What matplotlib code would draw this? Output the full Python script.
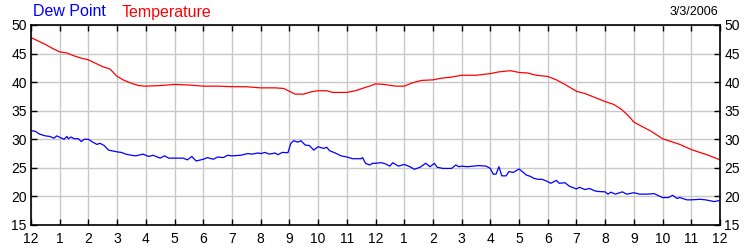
import matplotlib
matplotlib.use("Agg")
import matplotlib.pyplot as plt

plt.rcParams['font.family'] = ['Liberation Sans', 'DejaVu Sans']

temp_t = [0, 0.25, 0.5, 0.75, 1.0, 1.25, 1.5, 1.75, 2.0, 2.25, 2.5, 2.75, 3.0, 3.25, 3.5, 3.75,
          4.0, 4.5, 5.0, 5.5, 6.0, 6.5, 7.0, 7.5, 8.0, 8.5, 8.8, 9.0, 9.2, 9.5, 9.75, 10.0,
          10.3, 10.5, 11.0, 11.3, 11.6, 11.85, 12.0, 12.3, 12.7, 13.0, 13.3, 13.6, 14.0, 14.3,
          14.6, 15.0, 15.5, 16.0, 16.3, 16.7, 17.0, 17.3, 17.6, 18.0, 18.3, 18.6, 19.0, 19.3,
          19.6, 20.0, 20.3, 20.55, 20.75, 20.9, 21.0, 21.3, 21.6, 22.0, 22.3, 22.6, 23.0, 23.3,
          23.6, 24.0]
temp_v = [47.8, 47.2, 46.6, 45.9, 45.3, 45.1, 44.6, 44.2, 43.9, 43.3, 42.7, 42.3, 41.0, 40.3, 39.8, 39.4,
          39.3, 39.4, 39.6, 39.5, 39.3, 39.3, 39.2, 39.2, 39.0, 39.0, 38.9, 38.4, 37.9, 37.9, 38.3, 38.5,
          38.5, 38.2, 38.2, 38.5, 39.0, 39.4, 39.7, 39.6, 39.3, 39.3, 39.9, 40.3, 40.4, 40.7,
          40.85, 41.2, 41.2, 41.5, 41.8, 42.0, 41.7, 41.6, 41.2, 41.0, 40.4, 39.6, 38.4, 38.0,
          37.4, 36.6, 36.1, 35.3, 34.4, 33.6, 33.0, 32.2, 31.4, 30.1, 29.6, 29.1, 28.2, 27.7,
          27.2, 26.4]

dew_t = [0, 0.15, 0.3, 0.5, 0.65, 0.8, 0.9, 1.0, 1.15, 1.25, 1.3, 1.4, 1.5, 1.65, 1.75, 1.85,
         2.0, 2.15, 2.3, 2.4, 2.55, 2.7, 2.9, 3.0, 3.15, 3.3, 3.5, 3.65, 3.9, 4.1, 4.25, 4.5,
         4.65, 4.8, 5.0, 5.3, 5.45, 5.6, 5.75, 6.0, 6.15, 6.35, 6.5, 6.7, 6.85, 7.0, 7.3, 7.55,
         7.7, 7.9, 8.0, 8.15, 8.3, 8.5, 8.6, 8.75, 8.95, 9.05, 9.15, 9.3, 9.4, 9.55, 9.7, 9.85,
         10.0, 10.2, 10.3, 10.4, 10.6, 10.8, 11.0, 11.2, 11.5, 11.55, 11.65, 11.8, 11.9, 12.0,
         12.2, 12.35, 12.5, 12.6, 12.8, 13.0, 13.2, 13.35, 13.55, 13.75, 13.9, 14.05, 14.15,
         14.35, 14.65, 14.8, 14.9, 15.0, 15.2, 15.4, 15.6, 15.85, 16.0, 16.1, 16.2, 16.3, 16.4,
         16.55, 16.65, 16.8, 16.9, 17.0, 17.15, 17.25, 17.4, 17.5, 17.65, 17.8, 18.0, 18.1,
         18.3, 18.4, 18.6, 18.75, 19.0, 19.1, 19.3, 19.45, 19.65, 19.8, 20.0, 20.1, 20.2, 20.35,
         20.6, 20.75, 21.0, 21.2, 21.5, 21.7, 22.0, 22.2, 22.35, 22.5, 22.6, 22.85, 23.0, 23.3,
         23.5, 23.8, 24.0]
dew_v = [31.5, 31.4, 30.9, 30.6, 30.5, 30.2, 30.6, 30.35, 30.0, 30.5, 30.1, 30.4, 30.1, 30.1, 29.6, 30.0,
         30.0, 29.5, 29.1, 29.3, 28.9, 28.1, 27.9, 27.8, 27.7, 27.4, 27.2, 27.1, 27.4, 27.0, 27.2, 26.7,
         27.1, 26.7, 26.7, 26.7, 26.4, 27.0, 26.2, 26.5, 26.8, 26.5, 26.9, 26.8, 27.2, 27.1, 27.2, 27.5,
         27.4, 27.6, 27.5, 27.7, 27.4, 27.6, 27.3, 27.7, 27.65, 29.3, 29.75, 29.5, 29.75, 29.0, 28.9, 28.1,
         28.7, 28.4, 28.6, 28.0, 27.6, 27.1, 26.9, 26.6, 26.6, 26.8, 25.8, 25.5, 25.8, 25.8,
         25.9, 25.7, 25.3, 25.9, 25.3, 25.6, 25.2, 24.75, 25.1, 25.8, 25.2, 25.8, 25.1,
         24.9, 24.9, 25.5, 25.2, 25.3, 25.2, 25.3, 25.4, 25.3, 24.9, 23.9, 23.9, 25.2, 23.6,
         23.6, 24.35, 24.2, 24.5, 24.8, 24.2, 23.75, 23.5, 23.2, 23.0, 23.0, 22.6, 22.3,
         22.8, 22.3, 22.4, 21.8, 21.3, 21.6, 21.2, 21.4, 20.95, 20.85, 20.8, 20.4, 20.75, 20.4,
         20.8, 20.4, 20.65, 20.4, 20.4, 20.5, 19.8, 19.8, 20.2, 19.65, 19.8, 19.4, 19.4, 19.5,
         19.4, 19.1, 19.3]

x_ticks = list(range(25))
x_labels = ['12', '1', '2', '3', '4', '5', '6', '7', '8', '9', '10', '11',
            '12', '1', '2', '3', '4', '5', '6', '7', '8', '9', '10', '11', '12']
y_ticks = [15, 20, 25, 30, 35, 40, 45, 50]

fig = plt.figure(figsize=(7.5, 2.5), dpi=100)
ax = fig.add_axes([31/750, 0.1, 689/750, 0.8])
ax.plot(temp_t, temp_v, color='#ff0000', lw=0.9)
ax.plot(dew_t, dew_v, color='#0000ff', lw=0.9)
ax.set_xlim(0, 24)
ax.set_ylim(15, 50)
ax.set_xticks(x_ticks)
ax.set_xticklabels(x_labels)
ax.set_yticks(y_ticks)
ax.grid(True, color='#c8c8c8', lw=1.0)
ax.set_axisbelow(True)
ax.tick_params(direction='in', length=4, width=1, labelsize=10, colors='black',
               top=True, right=True, labelright=True, pad=3)
ax.tick_params(axis='x', pad=5)
for s in ax.spines.values():
    s.set_linewidth(1.2)
    s.set_color('black')

fig.text(33/750, 1 - 12/250, 'Dew Point', color='#0000ff', fontsize=11.5, va='center', ha='left')
fig.text(122/750, 1 - 12/250, 'Temperature', color='#ff0000', fontsize=11.5, va='center', ha='left')
fig.text(718/750, 1 - 12/250, '3/3/2006', color='black', fontsize=9, va='center', ha='right')

fig.savefig('out.png', dpi=100)
